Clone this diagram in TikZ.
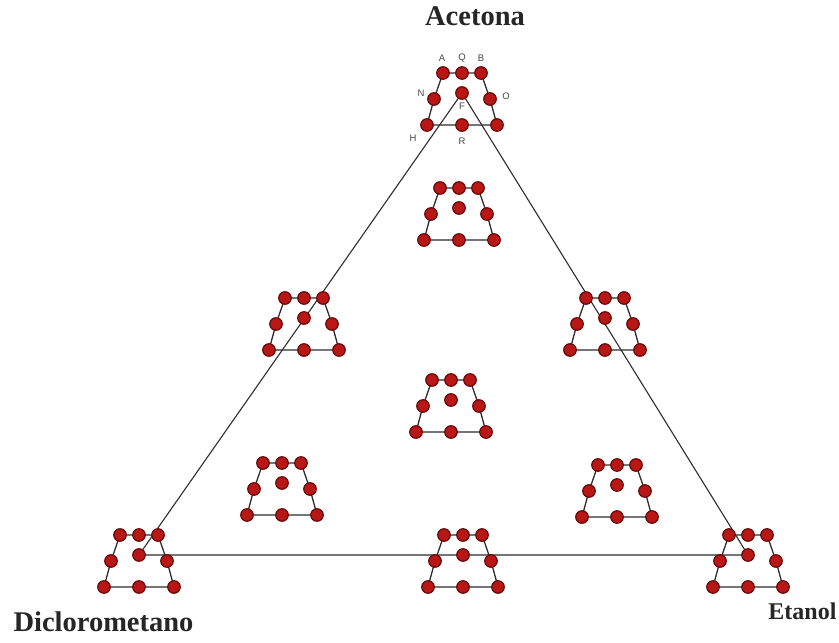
\documentclass[tikz,border=0pt]{standalone}
\usepackage{fontspec}
\setmainfont{Liberation Serif}
\setsansfont{Liberation Sans}
\usetikzlibrary{backgrounds}
\definecolor{dotfill}{RGB}{185,22,22}
\definecolor{dotedge}{RGB}{105,10,10}
\definecolor{linegray}{RGB}{45,45,45}
\definecolor{lettergray}{RGB}{70,70,70}
\tikzset{
  dot/.style={circle,fill=dotfill,draw=dotedge,line width=1.2pt,inner sep=0pt,minimum size=12.5pt},
  trap/.style={draw=linegray,line width=1.3pt},
  tri/.style={draw=linegray,line width=1.1pt},
  bigname/.style={font=\fontsize{28.5}{30}\selectfont\bfseries,text=black!85},
  letter/.style={font=\sffamily\fontsize{9.5}{9.5}\selectfont,text=lettergray,inner sep=0pt}
}
\newcommand\mkcluster[3]{%
  \begin{scope}[shift={(#2,#3)}]
    \node[dot] (#1tl) at (-19,-20) {};
    \node[dot] (#1tm) at (0,-20) {};
    \node[dot] (#1tr) at (19,-20) {};
    \node[dot] (#1ml) at (-28,6) {};
    \node[dot] (#1mr) at (28,6) {};
    \node[dot] (#1bl) at (-35,32) {};
    \node[dot] (#1bm) at (0,32) {};
    \node[dot] (#1br) at (35,32) {};
    \node[dot] (#1c) at (0,0) {};
  \end{scope}
  \begin{pgfonlayer}{background}
    \draw[trap] (#1tl.center) -- (#1tm.center) -- (#1tr.center) -- (#1mr.center) -- (#1br.center) -- (#1bm.center) -- (#1bl.center) -- (#1ml.center) -- cycle;
  \end{pgfonlayer}
}
\begin{document}
\begin{tikzpicture}[x=1pt,y=-1pt]
\useasboundingbox (0,0) rectangle (839,643);
\mkcluster{a}{462}{93}
\mkcluster{b}{459}{208}
\mkcluster{c}{304}{318}
\mkcluster{d}{605}{318}
\mkcluster{e}{451}{400}
\mkcluster{f}{282}{483}
\mkcluster{g}{617}{485}
\mkcluster{h}{139}{555}
\mkcluster{i}{463}{555}
\mkcluster{j}{748}{555}
\begin{pgfonlayer}{background}
  \draw[tri] (ac.center) -- (hc.center) -- (jc.center) -- cycle;
\end{pgfonlayer}
\node[letter] (lA) at (442,58) {A};
\node[letter] (lQ) at (462,58) {Q};
\node[letter] (lB) at (481,58) {B};
\node[letter] (lN) at (421,93) {N};
\node[letter] (lO) at (506,96) {O};
\node[letter] (lF) at (462,106) {F};
\node[letter] (lH) at (413,138) {H};
\node[letter] (lR) at (462,141) {R};
\node[bigname] (acetona) at (475,16) {Acetona};
\node[bigname,anchor=west] (diclo) at (10,622) {Diclorometano};
\node[bigname,anchor=east,font=\fontsize{24}{26}\selectfont\bfseries] (etanol) at (840,611) {Etanol};
\end{tikzpicture}
\end{document}
